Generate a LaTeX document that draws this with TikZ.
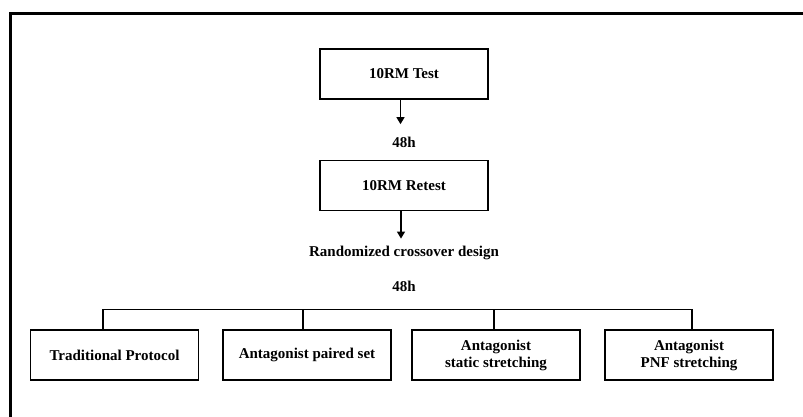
\documentclass[tikz,border=0pt]{standalone}
\usepackage{fontspec}
\setmainfont{Liberation Serif}
\usetikzlibrary{arrows.meta,positioning}

\begin{document}
\begin{tikzpicture}[x=1pt, y=1pt, >={Triangle[width=8pt,length=7pt]},
        font=\fontsize{15}{17}\selectfont\bfseries,
        stepbox/.style={draw, line width=1.6pt, minimum width=168pt, minimum height=50pt, align=center, inner sep=0pt},
        link/.style={line width=1.3pt}]

        \useasboundingbox (0,0) rectangle (803,-417);
        \draw[line width=3pt] (10,-14) rectangle (840,-450);

        \node[stepbox] (test) at (404,-74) {10RM Test};
        \node (firstgap) [below of=test, node distance=68pt] {48h};
        \node[stepbox] (retest) [below of=firstgap, node distance=43.5pt] {10RM Retest};
        \node (design) [below of=retest, node distance=67.5pt] {Randomized crossover design};
        \node (secondgap) [below of=design, node distance=33pt] {48h};

        \node[stepbox] (traditional) at (114.5,-355) {Traditional Protocol};
        \node[stepbox] (paired) [right of=traditional, node distance=192.5pt] {Antagonist paired set};
        \node[stepbox] (static) [right of=paired, node distance=189pt] {Antagonist\\static stretching};
        \node[stepbox] (pnf) [right of=static, node distance=193pt] {Antagonist\\PNF stretching};

        \draw[link,->] ([xshift=-3.5pt]test.south) -- ([xshift=-3.5pt]firstgap.north) [shorten >=9pt];
        \draw[link,->, shorten >=4pt] ([xshift=-3pt]retest.south) -- ([xshift=-3pt]design.north);

        \draw[link] ([xshift=-11.5pt]traditional.north) -- ++(0,20) -| ([xshift=3pt]pnf.north);
        \draw[link] ([xshift=-4pt]paired.north) -- ++(0,20);
        \draw[link] ([xshift=-2pt]static.north) -- ++(0,20);

\end{tikzpicture}
\end{document}
